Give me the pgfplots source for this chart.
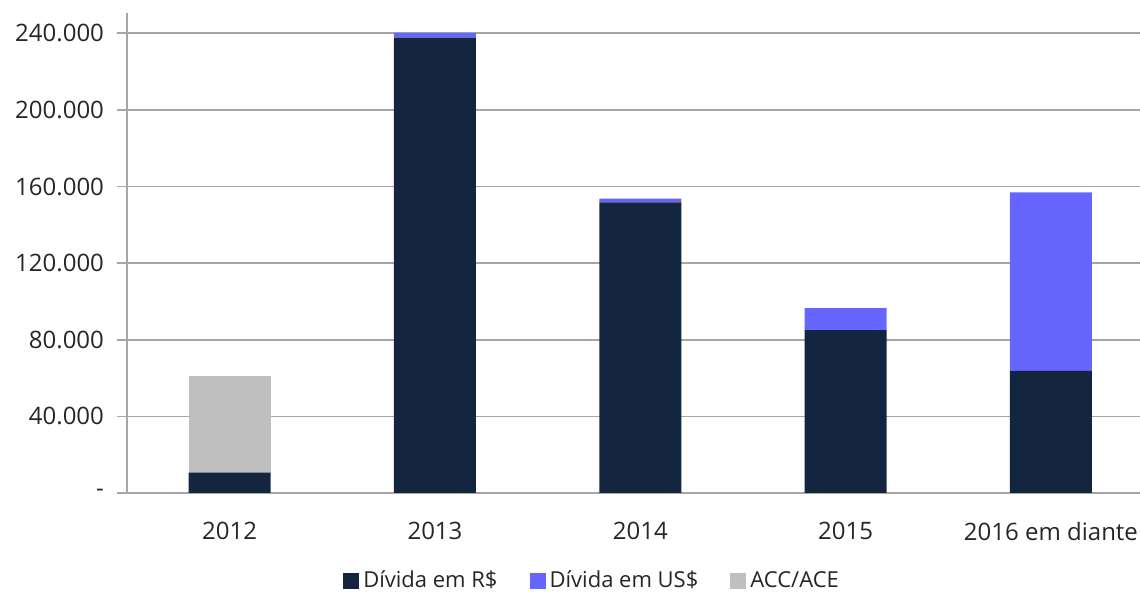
\documentclass[border=0pt]{standalone}
\usepackage{fontspec}
\setmainfont{Open Sans}
\usepackage{pgfplots}
\pgfplotsset{compat=1.18}

\definecolor{navy}{HTML}{13253F}
\definecolor{lblue}{HTML}{6666FF}
\definecolor{lgray}{HTML}{BFBFBF}
\definecolor{gridc}{HTML}{A6A6A6}
\definecolor{txt}{HTML}{262626}

\begin{document}
\begin{tikzpicture}
  \begin{axis}[
    scale only axis,
    width=513.3pt, height=240pt,
    ybar stacked, bar width=41pt,
    xmin=-0.5, xmax=4.5,
    ymin=0, ymax=250600,
    xtick={0,1,2,3,4},
    xticklabels={2012,2013,2014,2015,2016 em diante},
    x tick label style={yshift=-6pt},
    major x tick style={draw=none},
    extra x ticks={-0.5,0.5,1.5,2.5,3.5},
    extra x tick labels={},
    extra x tick style={major tick length=12pt, tick align=outside, tick style={gridc, line width=0.8pt}, grid=none},
    ytick={0,40000,80000,120000,160000,200000,240000},
    yticklabels={-,40.000,80.000,120.000,160.000,200.000,240.000},
    scaled y ticks=false,
    ymajorgrids, grid style={gridc, line width=0.8pt},
    tick align=outside, major tick length=5pt,
    y tick style={gridc, line width=0.8pt},
    y tick label style={xshift=-3pt},
    axis x line*=bottom, axis y line*=left,
    axis line style={gridc, line width=0.8pt, -},
    tick label style={font=\fontsize{12}{14}\selectfont, text=txt},
    legend style={at={(0.454,-44pt)}, anchor=center, draw=none, legend columns=-1,
      font=\fontsize{11}{13}\selectfont, text=txt,
      /tikz/every even column/.append style={column sep=14pt}},
    legend image code/.code={\fill[#1] (0pt,-4pt) rectangle (8pt,4pt);},
  ]
    \addplot[fill=navy, draw=none] coordinates {(0,10600) (1,237800) (2,151700) (3,85000) (4,63800)};
    \addplot[fill=lblue, draw=none] coordinates {(0,0) (1,2400) (2,2000) (3,11500) (4,93100)};
    \addplot[fill=lgray, draw=none] coordinates {(0,50400) (1,0) (2,0) (3,0) (4,0)};
    \legend{Dívida em R\$, Dívida em US\$, ACC/ACE}
  \end{axis}
  \pgfresetboundingbox
  \path[use as bounding box] (-63.5pt,-49.5pt) rectangle (506.5pt,246.5pt);
\end{tikzpicture}
\end{document}
